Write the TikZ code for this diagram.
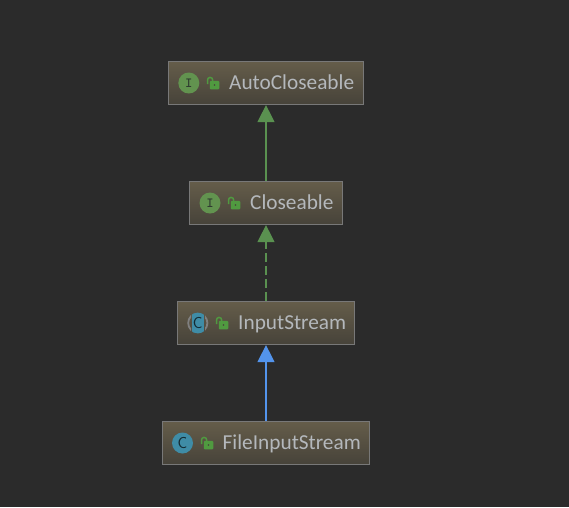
\documentclass[tikz,border=0pt]{standalone}
\usepackage{fontspec}
\setmainfont{Carlito}
\usetikzlibrary{arrows.meta}
\definecolor{bgc}{HTML}{2B2B2B}
\definecolor{boxtop}{HTML}{655D4A}
\definecolor{boxbot}{HTML}{47433A}
\definecolor{boxline}{HTML}{787878}
\definecolor{txt}{HTML}{B4B8BC}
\definecolor{grn}{HTML}{5A9150}
\definecolor{blu}{HTML}{5394EC}
\definecolor{ifc}{HTML}{62934F}
\definecolor{cls}{HTML}{3F8CA6}
\definecolor{lockc}{HTML}{509A40}
\definecolor{glyph}{HTML}{2F3B30}
\tikzset{
  x=1pt,y=-1pt,
  classbox/.style={draw=boxline,line width=1pt,top color=boxtop,bottom color=boxbot,minimum height=43pt,inner sep=0pt,anchor=center},
  label/.style={text=txt,font=\fontsize{21.3}{23}\selectfont,inner sep=0pt,anchor=base west},
  badge/.style={circle,minimum size=21pt,inner sep=0pt,text=glyph},
  ibadge/.style={badge,fill=ifc,font=\fontsize{14}{14}\ttfamily\bfseries},
  cbadge/.style={badge,fill=cls,text=black!70!cls,font=\fontsize{16}{16}\sffamily},
  lockbody/.style={fill=lockc,rounded corners=1pt,minimum width=9.5pt,minimum height=8.5pt,inner sep=0pt},
  ext/.style={line width=1.2pt,shorten >=0.6pt,-{Triangle[length=17pt,width=17pt]}},
}
\newcommand{\lockicon}[3]{%
  \node[lockbody] (#3) at (#1+1.5,#2+1.5) {};
  \node[circle,fill=boxbot,minimum size=1.6pt,inner sep=0pt] at (#1+1.5,#2+1.5) {};
  \draw[lockc,line width=1.5pt] (#1-5.5,#2+0.5) -- (#1-5.5,#2-3.5) arc[start angle=180,end angle=0,radius=2.6pt] -- (#1-0.3,#2-2.2);
}
\begin{document}
\begin{tikzpicture}
\useasboundingbox (0,0) rectangle (569,507);
\fill[bgc] (0,0) rectangle (569,507);

\node[classbox,minimum width=195pt] (auto) at (266,82.5) {};
\node[classbox,minimum width=153pt] (close) at (266,202.5) {};
\node[classbox,minimum width=177pt] (input) at (266,322.5) {};
\node[classbox,minimum width=207pt] (file) at (266,442.5) {};

\node[ibadge] (iA) at (188.8,83) {I};
\lockicon{213}{83.5}{lA}
\node[label] (tA) at (229,89) {AutoCloseable};

\node[ibadge] (iB) at (210,203) {I};
\lockicon{234}{203.5}{lB}
\node[label] (tB) at (250,209) {Closeable};

% abstract class badge: grey side arcs around a blue central band
\begin{scope}
  \clip (197.8,323) circle[radius=10.4pt];
  \fill[cls] (192,310) rectangle (204,336);
\end{scope}
\begin{scope}
  \clip (185,310) rectangle (191,336) (205,310) rectangle (211,336);
  \draw[gray,line width=1.8pt] (197.8,323) circle[radius=9.6pt];
\end{scope}
\node[badge,text=black!70!cls,font=\fontsize{16}{16}\sffamily] (iC) at (197.8,323) {C};
\lockicon{222}{323.5}{lC}
\node[label] (tC) at (238,329) {InputStream};

\node[cbadge] (iD) at (182.5,443) {C};
\lockicon{207}{443.5}{lD}
\node[label] (tD) at (222.5,449) {FileInputStream};

\draw[ext,grn] (close.north) -- (auto.south);
\draw[ext,grn,dash pattern=on 9pt off 4pt] (input.north) -- (close.south);
\draw[ext,blu] (file.north) -- (input.south);
\end{tikzpicture}
\end{document}
